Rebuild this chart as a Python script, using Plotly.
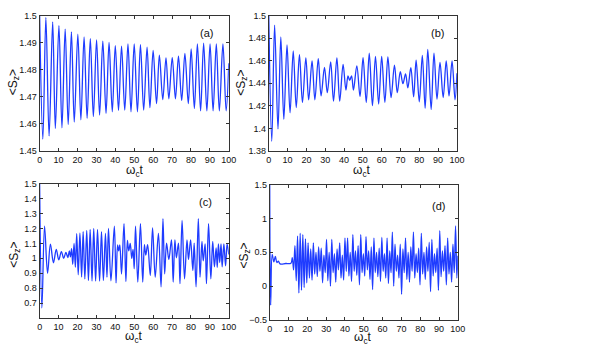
import plotly.graph_objects as go

# panel (a): alternating maxima / minima
a_t = [0, 1.7, 3.3, 5.0, 6.9, 8.3, 10.2, 11.8, 13.5, 15.1, 16.8, 18.3, 20.2, 21.8, 23.5, 25.1,
       26.8, 28.4, 30.1, 31.7, 33.4, 35.1, 36.7, 38.4, 40.0, 41.7, 43.3, 45.0, 46.7, 48.3, 50.0,
       51.7, 53.3, 55.0, 56.8, 58.3, 60.0, 61.8, 63.3, 65.1, 66.8, 68.3, 70.1, 71.8, 73.4, 75.1,
       76.8, 78.6, 80.1, 81.8, 83.4, 85.1, 86.7, 88.4, 90.1, 91.7, 93.4, 95.0, 96.9, 98.6, 100]
a_v = [1.5, 1.4544, 1.4993, 1.4556, 1.4976, 1.4583, 1.4963, 1.4586, 1.4950, 1.4598, 1.4940,
       1.4607, 1.4931, 1.4615, 1.4921, 1.4621, 1.4915, 1.4627, 1.4910, 1.4633, 1.4905, 1.4639,
       1.4901, 1.4645, 1.4889, 1.4650, 1.4887, 1.4651, 1.4895, 1.4645, 1.4895, 1.4645, 1.4893,
       1.4651, 1.4883, 1.4660, 1.4871, 1.4675, 1.4854, 1.4690, 1.4844, 1.4693, 1.4845, 1.4693,
       1.4850, 1.4687, 1.4860, 1.4675, 1.4877, 1.4657, 1.4895, 1.4648, 1.4898, 1.4648, 1.4895,
       1.4648, 1.4895, 1.4648, 1.4895, 1.4648, 1.4824]

# panel (b)
b_t = [0, 1.6, 3.1, 4.9, 6.4, 8.0, 9.7, 11.3, 13.0, 14.6, 16.3, 17.9, 19.7, 21.2, 23.0, 24.5,
       26.3, 27.8, 29.6, 31.1, 32.9, 34.4, 36.2, 37.7, 39.5, 41.0, 42.1, 43.0, 44.0, 45.0, 46.8,
       48.5, 50.1, 51.8, 53.4, 55.1, 56.7, 58.4, 60.0, 61.7, 63.3, 65.0, 66.8, 68.3, 69.9, 71.3,
       72.7, 73.9, 75.5, 77.0, 78.3, 80.0, 81.6, 83.1, 84.5, 86.3, 87.8, 89.4, 91.0, 92.7, 94.3,
       95.8, 97.4, 99.0, 100]
b_v = [1.5, 1.3887, 1.4914, 1.3996, 1.4811, 1.4082, 1.4739, 1.4139, 1.4687, 1.4185, 1.4653,
       1.4231, 1.4624, 1.4254, 1.4598, 1.4254, 1.4618, 1.4288, 1.4541, 1.4317, 1.4590, 1.4242,
       1.4624, 1.4242, 1.4567, 1.4340, 1.4466, 1.4426, 1.4466, 1.4340, 1.4555, 1.4283, 1.4627,
       1.4231, 1.4667, 1.4202, 1.4638, 1.4217, 1.4638, 1.4231, 1.4633, 1.4274, 1.4561, 1.4317,
       1.4504, 1.4397, 1.4483, 1.4360, 1.4538, 1.4280, 1.4604, 1.4237, 1.4647, 1.4179, 1.4699,
       1.4168, 1.4667, 1.4260, 1.4584, 1.4274, 1.4598, 1.4288, 1.4598, 1.4254, 1.4489]

# panel (c)
c_t = [0, 1.2, 2.6, 4.2, 5.7, 7.3, 8.8, 10.1, 11.5, 12.7,
       13.9, 14.9, 15.7, 16.3, 16.9, 17.5, 18.2, 18.9, 19.6, 20.4,
       21.3, 22.2, 23.0, 23.9, 24.9, 25.8, 26.7, 27.7, 28.6, 29.6,
       30.6, 31.7, 32.7, 33.7, 34.8, 35.6, 36.4, 37.7, 39.5, 40.4,
       41.2, 41.8, 42.4, 43.3, 44.6, 45.6, 46.4, 47.1, 47.9, 48.7,
       49.4, 50.0, 50.7, 51.9, 53.3, 54.5, 55.4, 56.1, 57.1, 58.5,
       59.7, 61.1, 62.8, 64.2, 65.2, 66.1, 67.1, 68.3, 69.7, 70.6,
       71.5, 72.3, 73.4, 74.2, 75.3, 76.6, 77.9, 78.7, 79.8, 81.0,
       81.7, 82.7, 83.9, 84.8, 85.8, 86.5, 87.5, 88.2, 89.3, 90.5,
       91.5, 92.4, 93.3, 93.9, 94.5, 95.2, 95.9, 96.5, 97.4, 98.3,
       99.1, 100]
c_v = [1.5, 0.667, 1.215, 0.90, 1.095, 0.97, 1.06, 0.99, 1.045, 1.0,
       1.04, 1.005, 1.05, 1.01, 1.065, 0.96, 1.10, 0.94, 1.165, 0.89,
       1.168, 0.875, 1.178, 0.862, 1.187, 0.852, 1.193, 0.848, 1.2, 0.848,
       1.193, 0.848, 1.178, 0.852, 1.167, 0.874, 1.2, 0.85, 1.215, 0.835,
       1.09, 1.05, 1.09, 0.895, 1.233, 0.845, 1.12, 1.05, 1.1, 1.0,
       1.06, 0.93, 1.215, 0.841, 1.233, 0.841, 1.091, 1.022, 1.091, 0.885,
       1.204, 0.874, 1.167, 0.809, 1.265, 0.896, 1.102, 0.993, 1.124, 0.841,
       1.124, 1.004, 1.102, 0.83, 1.254, 0.863, 1.124, 0.993, 1.124, 0.917,
       1.102, 0.809, 1.265, 0.874, 1.113, 0.983, 1.096, 0.83, 1.233, 0.863,
       1.113, 0.943, 1.07, 0.939, 1.096, 0.972, 1.096, 0.943, 1.096, 0.95,
       1.096, 1.026]

# panel (d): initial transient, then maxima and minima of the noisy part
d_start_t = [0, 0.5, 1.3, 2.2, 3.0, 3.8, 4.6, 5.5, 8.5, 11.3]
d_start_v = [1.5, -0.28, 0.47, 0.36, 0.44, 0.35, 0.37, 0.33, 0.335, 0.34]
d_peak_t = [12.0, 13.4, 14.8, 16.2, 17.6, 19.0, 20.4, 21.8, 23.2, 24.6,
            26.0, 27.4, 28.8, 30.2, 31.6, 33.0, 34.4, 35.8, 37.2, 38.6,
            40.0, 41.4, 42.8, 44.2, 45.6, 47.0, 48.4, 49.8, 51.2, 52.6,
            54.0, 55.4, 56.8, 58.2, 59.6, 61.0, 62.4, 63.8, 65.2, 66.6,
            68.0, 69.4, 70.8, 72.2, 73.6, 75.0, 76.4, 77.8, 79.2, 80.6,
            82.0, 83.4, 84.8, 86.2, 87.6, 89.0, 90.4, 91.8, 93.2, 94.6,
            96.0, 97.4, 98.8, 100.0]
d_peak_v = [0.42, 0.60, 0.74, 0.78, 0.76, 0.70, 0.64, 0.55, 0.64, 0.50,
            0.58, 0.56, 0.46, 0.69, 0.50, 0.69, 0.48, 0.55, 0.64, 0.46,
            0.71, 0.71, 0.50, 0.76, 0.52, 0.60, 0.76, 0.48, 0.73, 0.52,
            0.58, 0.71, 0.50, 0.56, 0.72, 0.48, 0.71, 0.52, 0.80, 0.62,
            0.46, 0.62, 0.55, 0.71, 0.50, 0.58, 0.80, 0.48, 0.56, 0.78,
            0.50, 0.58, 0.65, 0.69, 0.48, 0.56, 0.82, 0.52, 0.60, 0.71,
            0.50, 0.62, 0.89, 0.45]
d_trough_t = [12.7, 14.1, 15.5, 16.9, 18.3, 19.7, 21.1, 22.5, 23.9, 25.3,
              26.7, 28.1, 29.5, 30.9, 32.3, 33.7, 35.1, 36.5, 37.9, 39.3,
              40.7, 42.1, 43.5, 44.9, 46.3, 47.7, 49.1, 50.5, 51.9, 53.3,
              54.7, 56.1, 57.5, 58.9, 60.3, 61.7, 63.1, 64.5, 65.9, 67.3,
              68.7, 70.1, 71.5, 72.9, 74.3, 75.7, 77.1, 78.5, 79.9, 81.3,
              82.7, 84.1, 85.5, 86.9, 88.3, 89.7, 91.1, 92.5, 93.9, 95.3,
              96.7, 98.1, 99.5]
d_trough_v = [0.24, 0.08, -0.10, -0.06, -0.02, 0.05, 0.12, 0.09, 0.18, 0.14,
              0.22, 0.05, 0.20, 0.08, 0.00, 0.20, 0.06, 0.24, 0.12, 0.09,
              0.22, 0.15, 0.07, 0.22, 0.16, 0.02, 0.20, 0.15, 0.24, 0.10,
              -0.05, 0.20, 0.14, 0.07, 0.22, 0.12, 0.04, 0.20, 0.00, 0.22,
              0.12, -0.12, 0.20, 0.10, 0.06, 0.22, 0.12, 0.20, 0.02, 0.18,
              0.10, 0.22, -0.08, 0.15, 0.20, -0.06, 0.14, 0.22, 0.02, 0.18,
              0.06, 0.20, 0.12]

x_ticks = [0, 10, 20, 30, 40, 50, 60, 70, 80, 90, 100]

# merge the (d) pieces into one time-ordered series
d_pts = sorted(zip(d_start_t + d_peak_t + d_trough_t, d_start_v + d_peak_v + d_trough_v))
d_t = [p[0] for p in d_pts]
d_v = [p[1] for p in d_pts]

panels = [
    # data, label, x domain, y domain, y range, y ticks, label pos, x-title pos, y-title pos
    (a_t, a_v, "(a)", [0.0623, 0.384], [0.569, 0.969], [1.45, 1.5],
     [1.45, 1.46, 1.47, 1.48, 1.49, 1.5], (0.3456, 0.917), (0.224, 0.511), (0.018, 0.771)),
    (b_t, b_v, "(b)", [0.452, 0.772], [0.569, 0.969], [1.38, 1.5],
     [1.38, 1.4, 1.42, 1.44, 1.46, 1.48, 1.5], (0.7396, 0.917), (0.611, 0.511), (0.405, 0.771)),
    (c_t, c_v, "(c)", [0.0623, 0.384], [0.0765, 0.473], [0.6, 1.5],
     [0.7, 0.8, 0.9, 1, 1.1, 1.2, 1.3, 1.4, 1.5], (0.3451, 0.4175), (0.222, 0.020), (0.019, 0.264)),
    (d_t, d_v, "(d)", [0.4536, 0.7735], [0.0708, 0.470], [-0.5, 1.5],
     [-0.5, 0, 0.5, 1, 1.5], (0.7412, 0.408), (0.612, 0.019), (0.410, 0.261)),
]

fig = go.Figure()
font = "Liberation Sans, Arial, sans-serif"
ax_common = dict(showgrid=False, zeroline=False, showline=True, linecolor="#333",
                 linewidth=1, mirror="allticks", ticks="inside", ticklen=3,
                 tickcolor="#333", tickfont=dict(family=font, size=9, color="#111"))
txt = dict(xref="paper", yref="paper", xanchor="center", yanchor="middle", showarrow=False)

for i, (t, v, lab, xd, yd, yr, yt, lp, xp, yp) in enumerate(panels):
    n = "" if i == 0 else str(i + 1)
    fig.add_trace(go.Scatter(x=t, y=v, mode="lines", xaxis="x" + n, yaxis="y" + n,
                             line=dict(color="#1f3cff", width=1.3, shape="spline"),
                             showlegend=False, hoverinfo="skip"))
    fig.update_layout({
        "xaxis" + n: dict(domain=xd, range=[0, 100], tickvals=x_ticks, anchor="y" + n,
                          **ax_common),
        "yaxis" + n: dict(domain=yd, range=yr, tickvals=yt, anchor="x" + n, **ax_common),
    })
    fig.add_annotation(text=lab, x=lp[0], y=lp[1],
                       font=dict(family=font, size=11, color="#111"), **txt)
    fig.add_annotation(text="ω<sub>c</sub>t", x=xp[0], y=xp[1],
                       font=dict(family=font, size=12, color="#111"), **txt)
    fig.add_annotation(text="&lt;S<sub>z</sub>&gt;", x=yp[0], y=yp[1], textangle=-90,
                       font=dict(family=font, size=12, color="#111"), **txt)

fig.update_layout(width=599, height=349, margin=dict(l=0, r=0, t=0, b=0),
                  paper_bgcolor="white", plot_bgcolor="white")

fig.write_html("out.html", config={"displayModeBar": False},
               post_script="document.body.style.margin = '0';")
